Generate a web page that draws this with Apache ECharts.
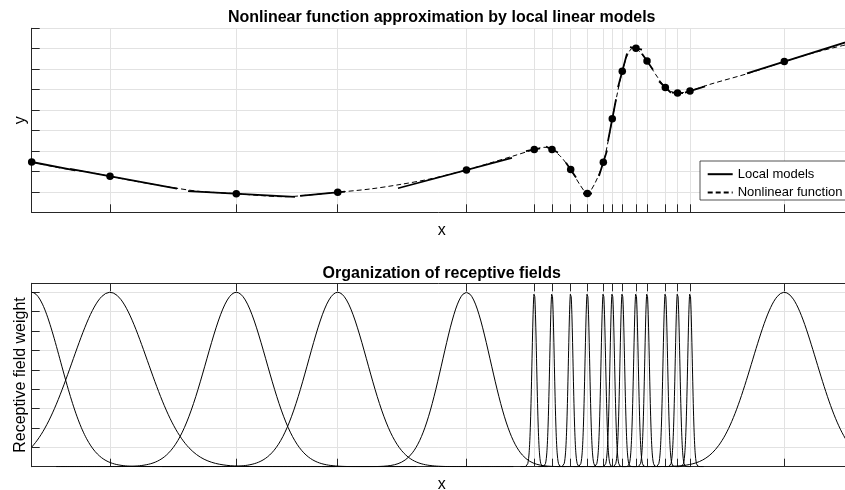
<!DOCTYPE html>
<html><head><meta charset="utf-8">
<script src="https://cdn.jsdelivr.net/npm/echarts@6/dist/echarts.min.js"></script>
<style>html,body{margin:0;padding:0;background:#fff}#c{width:845px;height:490px}</style>
</head><body><div id="c"></div>
<script>
const FONT = '"Liberation Sans", Arial, Helvetica, sans-serif';

// Centres of the local models / receptive fields (x in [0,1])
const centers = [0, 0.0955, 0.2495, 0.3732, 0.5302, 0.6129, 0.6345, 0.6573, 0.6776, 0.6971, 0.7080, 0.7202, 0.7369, 0.7504, 0.7727, 0.7876, 0.8028, 0.9178];
// Output of each local model at its centre
const centerY = [2.46, 1.76, 0.91, 0.98, 2.07, 3.07, 3.07, 2.09, 0.92, 2.45, 4.57, 6.90, 8.02, 7.40, 6.11, 5.84, 5.93, 7.37];
// Slope of each local linear model
const localSlope = [-7.8, -7.4, -2.2, 3.8, 10.7, 8, -20, -59, 0, 128, 209, 150, -8, -59, -38, -2, 12.6, 12.6];
// Extent of each drawn local model segment
const segStart = [0, 0.0468, 0.1907, 0.3272, 0.4467, 0.6028, 0.6272, 0.6516, 0.6723, 0.6918, 0.7028, 0.7150, 0.7296, 0.7443, 0.7650, 0.7808, 0.7967, 0.8723];
const segEnd = [0.053, 0.1772, 0.3211, 0.3821, 0.5857, 0.6199, 0.6418, 0.6638, 0.6833, 0.7016, 0.7126, 0.7260, 0.7443, 0.7577, 0.7796, 0.7943, 0.8211, 1.0];
// Width (std. dev.) of each Gaussian receptive field
const fieldWidth = [0.035, 0.0457, 0.0366, 0.0357, 0.0293, 0.0028, 0.0028, 0.0028, 0.0028, 0.0028, 0.0028, 0.0028, 0.0028, 0.0028, 0.0028, 0.0028, 0.0028, 0.039];

// Nonlinear target function
const fnX = [0, 0.0345, 0.0711, 0.0955, 0.1321, 0.1748, 0.2052, 0.2495, 0.2784, 0.3089, 0.3394, 0.3732, 0.4126, 0.4492, 0.4857, 0.5302, 0.5589, 0.5870, 0.6129, 0.6260, 0.6345, 0.6455, 0.6573, 0.6687, 0.6776, 0.6870, 0.6971, 0.7028, 0.7080, 0.7138, 0.7202, 0.7272, 0.7333, 0.7369, 0.7430, 0.7504, 0.7613, 0.7727, 0.7808, 0.7876, 0.7954, 0.8028, 0.8272, 0.8760, 0.9178, 0.9552, 1.0];
const fnY = [2.46, 2.17, 1.95, 1.76, 1.48, 1.19, 1.02, 0.91, 0.82, 0.76, 0.85, 0.98, 1.14, 1.36, 1.63, 2.07, 2.41, 2.75, 3.07, 3.18, 3.07, 2.71, 2.09, 1.34, 0.92, 1.43, 2.45, 3.44, 4.57, 5.74, 6.90, 7.75, 8.04, 8.02, 7.79, 7.40, 6.72, 6.11, 5.89, 5.84, 5.86, 5.93, 6.26, 6.82, 7.37, 7.82, 8.26];

const GRID_COLOR = '#e2e2e2', AXIS_COLOR = '#262626';

const fnData = fnX.map((x, i) => [x, fnY[i]]);
const dotData = centers.map((c, i) => [c, centerY[i]]);
const localData = [];
centers.forEach((c, i) => {
  localData.push([segStart[i], centerY[i] + localSlope[i] * (segStart[i] - c)]);
  localData.push([segEnd[i], centerY[i] + localSlope[i] * (segEnd[i] - c)]);
  localData.push(['-', '-']);
});

const fieldSeries = centers.map((c, i) => {
  const s = fieldWidth[i];
  const lo = Math.max(0, c - 6 * s), hi = Math.min(1, c + 6 * s);
  const n = 160, pts = [];
  for (let k = 0; k <= n; k++) {
    const x = lo + (hi - lo) * k / n;
    pts.push([x, Math.exp(-0.5 * Math.pow((x - c) / s, 2))]);
  }
  return {
    type: 'line', name: 'Field ' + (i + 1), xAxisIndex: 1, yAxisIndex: 1,
    data: pts, showSymbol: false, symbol: 'none', silent: true,
    itemStyle: { color: '#000' },
    lineStyle: { color: '#000', width: 1 }
  };
});

function xAx(gridIndex, opts) {
  return Object.assign({
    type: 'value', gridIndex, min: 0, max: 1,
    axisLine: { show: true, onZero: false, lineStyle: { color: AXIS_COLOR, width: 1 } },
    axisTick: { show: true, inside: true, length: 8, customValues: centers, lineStyle: { color: AXIS_COLOR, width: 1 } },
    axisLabel: { show: false },
    splitLine: { show: true, lineStyle: { color: GRID_COLOR, width: 1 } },
    nameLocation: 'middle', nameGap: 10,
    nameTextStyle: { fontSize: 16, color: '#000', fontFamily: FONT }
  }, opts);
}
function yAx(gridIndex, opts) {
  return Object.assign({
    type: 'value', gridIndex, min: 0,
    axisLine: { show: true, onZero: false, lineStyle: { color: AXIS_COLOR, width: 1 } },
    axisTick: { show: true, inside: true, length: 8, lineStyle: { color: AXIS_COLOR, width: 1 } },
    axisLabel: { show: false },
    splitLine: { show: true, lineStyle: { color: GRID_COLOR, width: 1 } },
    nameLocation: 'middle', nameGap: 3,
    nameTextStyle: { fontSize: 16, color: '#000', fontFamily: FONT }
  }, opts);
}

const chart = echarts.init(document.getElementById('c'), null, { renderer: 'canvas' });
chart.setOption({
  animation: false,
  backgroundColor: '#fff',
  color: ['#000'],
  textStyle: { fontFamily: FONT },
  title: [
    { text: 'Nonlinear function approximation by local linear models', left: 441.7, top: 9.5, padding: 0,
      textAlign: 'center', textVerticalAlign: 'top',
      textStyle: { fontSize: 16, fontWeight: 'bold', color: '#000', fontFamily: FONT } },
    { text: 'Organization of receptive fields', left: 441.7, top: 265.5, padding: 0,
      textAlign: 'center', textVerticalAlign: 'top',
      textStyle: { fontSize: 16, fontWeight: 'bold', color: '#000', fontFamily: FONT } }
  ],
  grid: [
    { left: 31.7, right: -6.7, top: 28.3, bottom: 277.7, containLabel: false, outerBoundsMode: 'none' },
    { left: 31.7, right: -6.7, top: 283.3, bottom: 23.3, containLabel: false, outerBoundsMode: 'none' }
  ],
  xAxis: [
    xAx(0, { name: 'x' }),
    xAx(1, { name: 'x' }),
    xAx(1, { position: 'top', splitLine: { show: false } })
  ],
  yAxis: [
    yAx(0, { max: 9, interval: 1, name: 'y' }),
    yAx(1, { max: 1.0516, interval: 1 / 9, name: 'Receptive field weight' })
  ],
  legend: {
    data: ['Local models', 'Nonlinear function'],
    orient: 'vertical', left: 700, top: 161,
    itemWidth: 25, itemHeight: 14, itemGap: 5.3,
    padding: [6.7, 8, 1, 6.7],
    backgroundColor: '#fff', borderColor: AXIS_COLOR, borderWidth: 0.8, borderRadius: 0,
    itemStyle: { color: 'rgba(0,0,0,0)', borderColor: 'rgba(0,0,0,0)', borderWidth: 0, opacity: 0 },
    textStyle: { fontSize: 13, color: '#000', fontFamily: FONT },
    selectedMode: false
  },
  series: [
    { type: 'line', name: 'Nonlinear function', xAxisIndex: 0, yAxisIndex: 0, data: fnData,
      smooth: 0.3, showSymbol: false, symbol: 'none',
      itemStyle: { color: '#000' },
      lineStyle: { color: '#000', width: 1, type: [5, 3] }, z: 3 },
    { type: 'line', name: 'Local models', xAxisIndex: 0, yAxisIndex: 0, data: localData,
      connectNulls: false, showSymbol: false, symbol: 'none',
      itemStyle: { color: '#000' },
      lineStyle: { color: '#000', width: 1.8 }, z: 4 },
    { type: 'scatter', name: 'Centres', xAxisIndex: 0, yAxisIndex: 0, data: dotData,
      symbolSize: 7.5, itemStyle: { color: '#000', opacity: 1 }, z: 5 }
  ].concat(fieldSeries)
});
</script></body></html>
